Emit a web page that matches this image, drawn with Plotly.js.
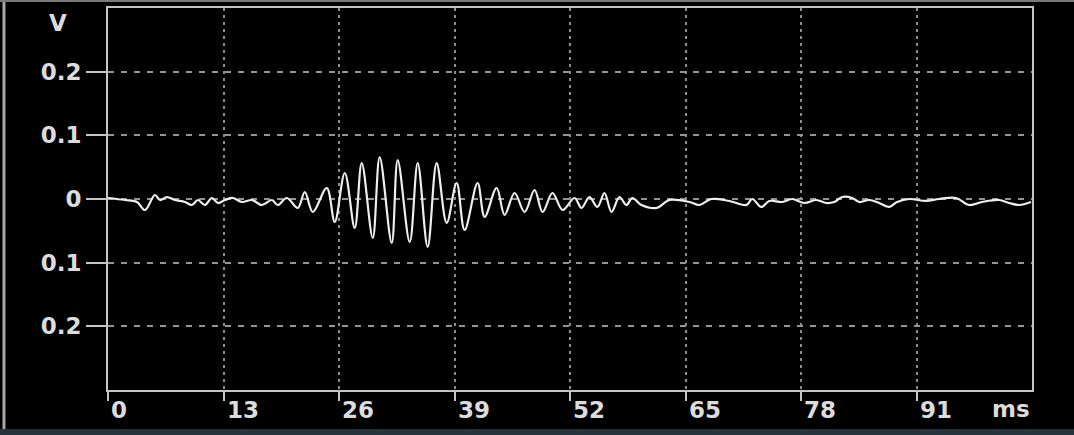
<!DOCTYPE html>
<html>
<head>
<meta charset="utf-8">
<script src="https://cdn.plot.ly/plotly-3.0.1.min.js"></script>
<style>
  html, body { margin: 0; padding: 0; background: #000; }
  #chart { width: 1074px; height: 435px; }
</style>
</head>
<body>
<div id="chart"></div>
<script>
// Recorded waveform: time in ms, amplitude in V
const timeMs = [
  0.0, 1.91, 3.26, 4.16, 5.28, 5.85, 6.63, 7.53, 8.66, 9.44,
  10.12, 10.91, 11.69, 12.37, 13.16, 14.05, 15.07, 16.19, 17.32, 18.44,
  19.11, 20.13, 21.36, 22.15, 23.05, 24.62, 25.52, 26.65, 27.77, 28.56,
  29.80, 30.58, 31.93, 32.61, 33.96, 34.86, 35.98, 36.99, 38.12, 39.24,
  40.14, 41.60, 42.39, 43.74, 44.64, 45.76, 46.89, 48.01, 48.91, 50.03,
  51.16, 52.51, 53.29, 54.19, 55.09, 55.88, 56.67, 57.57, 58.35, 59.03,
  60.04, 61.73, 63.19, 65.44, 66.56, 67.91, 69.93, 71.85, 72.52, 73.53,
  74.43, 75.89, 77.02, 78.37, 79.72, 80.84, 81.74, 82.64, 83.76, 84.55,
  85.68, 86.80, 87.92, 88.82, 90.17, 92.08, 93.55, 95.46, 96.92, 98.38,
  100.29, 101.42, 102.54, 103.89
];
const voltage = [
  0.0016, -0.0016, -0.0047, -0.0173, 0.0063, -0.0016, 0.0031, -0.0016, -0.0047, -0.0094,
  -0.0016, -0.0094, 0.0016, -0.0063, -0.0016, 0.0016, -0.0047, -0.0016, -0.0094, -0.0016,
  -0.0094, 0.0016, -0.0141, 0.0110, -0.0204, 0.0173, -0.0361, 0.0408, -0.0455, 0.0565,
  -0.0612, 0.0659, -0.0690, 0.0612, -0.0675, 0.0565, -0.0753, 0.0565, -0.0376, 0.0251,
  -0.0486, 0.0251, -0.0282, 0.0173, -0.0251, 0.0094, -0.0204, 0.0141, -0.0204, 0.0094,
  -0.0173, 0.0016, -0.0141, 0.0031, -0.0125, 0.0094, -0.0204, 0.0031, -0.0094, 0.0016,
  -0.0094, -0.0141, -0.0016, -0.0047, -0.0094, 0.0, -0.0031, -0.0094, 0.0, -0.0125,
  -0.0031, -0.0047, 0.0, -0.0063, -0.0016, -0.0063, -0.0047, 0.0031, 0.0016, -0.0047,
  -0.0016, -0.0063, -0.0125, -0.0047, 0.0, -0.0031, 0.0, 0.0016, -0.0094, -0.0047,
  -0.0016, -0.0063, -0.0094, -0.0047
];

// Axis ticks
const xTickVals = [0, 13, 26, 39, 52, 65, 78, 91];
const xTickText = ["0", "13", "26", "39", "52", "65", "78", "91"];
const yTickVals = [-0.2, -0.1, 0, 0.1, 0.2];
const yTickText = ["0.2", "0.1", "0", "0.1", "0.2"];

const labelFont = { family: "DejaVu Sans", size: 23, color: "#dcdcdc", weight: "bold" };
const frameColor = "#c4c4c4";

const trace = {
  x: timeMs,
  y: voltage,
  type: "scatter",
  mode: "lines",
  line: { color: "#eeeeee", width: 2.2, shape: "spline", smoothing: 1.0 },
  hoverinfo: "skip"
};

// x tick labels sit just right of their tick marks
const xLabels = xTickVals.map((v, i) => ({
  x: v, y: 0, xref: "x", yref: "paper",
  text: "<b>" + xTickText[i] + "</b>",
  showarrow: false, xanchor: "left", yanchor: "top",
  xshift: 1, yshift: -5,
  font: labelFont
}));

const layout = {
  width: 1074,
  height: 435,
  margin: { l: 108, r: 42, t: 8, b: 45 },
  paper_bgcolor: "#000000",
  plot_bgcolor: "#000000",
  showlegend: false,
  xaxis: {
    range: [0, 104],
    tickvals: xTickVals,
    ticktext: xTickText,
    showticklabels: false,
    ticks: "outside",
    ticklen: 9,
    tickwidth: 2,
    tickcolor: frameColor,
    showgrid: true,
    gridcolor: "#8c8c8c",
    gridwidth: 2,
    griddash: "3px,4px",
    zeroline: false,
    showline: true,
    linecolor: frameColor,
    linewidth: 2,
    mirror: true,
    fixedrange: true
  },
  yaxis: {
    range: [-0.3, 0.3],
    tickvals: yTickVals,
    ticktext: yTickText,
    ticks: "outside",
    ticklen: 20,
    tickwidth: 2,
    tickcolor: frameColor,
    tickfont: labelFont,
    showgrid: true,
    gridcolor: "#959595",
    gridwidth: 2,
    griddash: "6px,7px",
    zeroline: false,
    showline: true,
    linecolor: frameColor,
    linewidth: 2,
    mirror: true,
    fixedrange: true
  },
  annotations: xLabels.concat([
    {
      x: -0.054, y: 0.962, xref: "paper", yref: "paper",
      text: "<b>V</b>", showarrow: false,
      xanchor: "center", yanchor: "middle",
      font: labelFont
    },
    {
      x: 0.977, y: 0, xref: "paper", yref: "paper",
      text: "<b>ms</b>", showarrow: false,
      xanchor: "center", yanchor: "top", yshift: -4,
      font: labelFont
    }
  ]),
  shapes: [
    // outer frame of the panel
    { type: "line", xref: "paper", yref: "paper", x0: -0.1126, x1: -0.1126, y0: -0.105, y1: 1.03,
      line: { color: "#a8a8a8", width: 3 } },
    { type: "line", xref: "paper", yref: "paper", x0: -0.12, x1: 1.05, y0: 1.0183, y1: 1.0183,
      line: { color: "#7a7a7a", width: 2 } },
    { type: "rect", xref: "paper", yref: "paper", x0: -0.12, x1: 1.05, y0: -0.102, y1: -0.14,
      fillcolor: "#27333c", line: { width: 0 } }
  ]
};

Plotly.newPlot("chart", [trace], layout, { displayModeBar: false, staticPlot: true });
</script>
</body>
</html>
